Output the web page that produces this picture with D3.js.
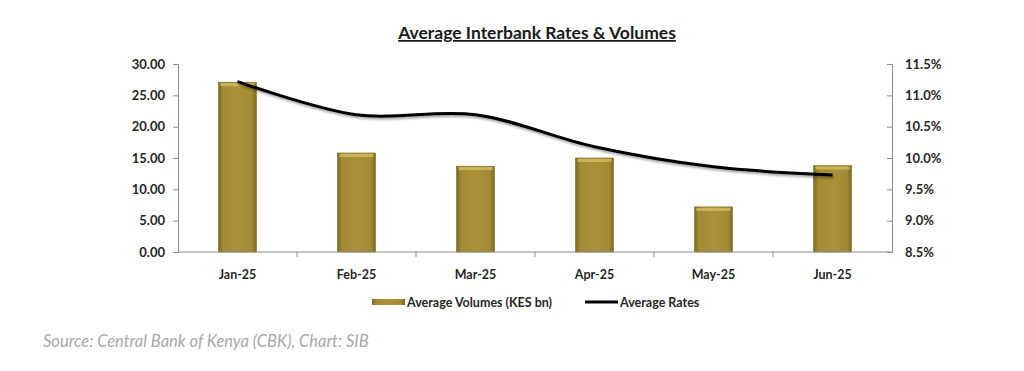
<!DOCTYPE html>
<html>
<head>
<meta charset="utf-8">
<script src="https://cdn.jsdelivr.net/npm/d3@7"></script>
<style>
  body { margin: 0; background: #fff; }
  svg text { font-family: Lato, "Open Sans", sans-serif; }
</style>
</head>
<body>
<div id="chart"></div>
<script>
// data
const MONTHS = ["Jan-25", "Feb-25", "Mar-25", "Apr-25", "May-25", "Jun-25"];
const VOLUMES = [27.1, 15.8, 13.7, 15.0, 7.2, 13.8];
const RATES = [11.22, 10.69, 10.69, 10.18, 9.86, 9.73];
const LEFT_TICKS = [0, 5, 10, 15, 20, 25, 30];
const RIGHT_TICKS = [8.5, 9.0, 9.5, 10.0, 10.5, 11.0, 11.5];

const W = 1024, H = 371;
const plot = { left: 178, right: 892, top: 64, bottom: 252 };

const svg = d3.select("#chart").append("svg")
    .attr("width", W)
    .attr("height", H);

const defs = svg.append("defs");
const grad = defs.append("linearGradient").attr("id", "gold").attr("x1", 0).attr("x2", 1);
grad.append("stop").attr("offset", "0%").attr("stop-color", "#7a6720");
grad.append("stop").attr("offset", "12%").attr("stop-color", "#a38b36");
grad.append("stop").attr("offset", "50%").attr("stop-color", "#aa923b");
grad.append("stop").attr("offset", "88%").attr("stop-color", "#a38b36");
grad.append("stop").attr("offset", "100%").attr("stop-color", "#7a6720");

const shadow = defs.append("filter").attr("id", "shadow")
    .attr("x", "-5%").attr("y", "-20%").attr("width", "110%").attr("height", "160%");
shadow.append("feDropShadow").attr("dx", 1).attr("dy", 2).attr("stdDeviation", 1.2)
    .attr("flood-color", "#000").attr("flood-opacity", 0.35);

// scales
const x = d3.scaleBand().domain(MONTHS).range([plot.left, plot.right]).paddingInner(0.68).paddingOuter(0.34);
const xBand = d3.scaleBand().domain(MONTHS).range([plot.left, plot.right]);
const yL = d3.scaleLinear().domain([0, 30]).range([plot.bottom, plot.top]);
const yR = d3.scaleLinear().domain([8.5, 11.5]).range([plot.bottom, plot.top]);

// title
svg.append("text")
    .attr("x", 537).attr("y", 39)
    .attr("text-anchor", "middle")
    .style("font-size", "17.5px")
    .style("font-weight", "bold")
    .style("fill", "#1a1a1a")
    .style("text-decoration", "underline")
    .text("Average Interbank Rates & Volumes");

// bars
const bars = svg.append("g").selectAll("g.bar")
    .data(MONTHS.map((m, i) => ({ m, v: VOLUMES[i] })))
    .enter().append("g");

bars.append("rect")
    .attr("x", d => x(d.m))
    .attr("y", d => yL(d.v))
    .attr("width", x.bandwidth())
    .attr("height", d => yL(0) - yL(d.v))
    .attr("fill", "url(#gold)")
    .attr("stroke", "#85712a")
    .attr("stroke-width", 0.6);

bars.append("rect")
    .attr("x", d => x(d.m) + 2)
    .attr("y", d => yL(d.v) + 1)
    .attr("width", x.bandwidth() - 4)
    .attr("height", 3)
    .attr("fill", "#d6c165")
    .attr("opacity", 0.75);

// axes
const axisColor = "#8c8c8c";

const xAxis = svg.append("g")
    .attr("transform", `translate(0,${plot.bottom})`);
xAxis.append("line")
    .attr("x1", plot.left).attr("x2", plot.right)
    .attr("stroke", axisColor);
xAxis.selectAll("line.tick")
    .data(MONTHS.slice(1))
    .enter().append("line")
    .attr("x1", d => xBand(d)).attr("x2", d => xBand(d))
    .attr("y1", 0).attr("y2", 5)
    .attr("stroke", axisColor);
xAxis.selectAll("text")
    .data(MONTHS)
    .enter().append("text")
    .attr("x", d => xBand(d) + xBand.bandwidth() / 2)
    .attr("y", 27)
    .attr("text-anchor", "middle")
    .style("font-size", "12.5px")
    .style("font-weight", "bold")
    .style("fill", "#262626")
    .text(d => d);

const leftAxis = svg.append("g")
    .attr("transform", `translate(${plot.left},0)`)
    .call(d3.axisLeft(yL).tickValues(LEFT_TICKS).tickSize(5).tickPadding(8).tickFormat(d3.format(".2f")));

const rightAxis = svg.append("g")
    .attr("transform", `translate(${plot.right},0)`)
    .call(d3.axisRight(yR).tickValues(RIGHT_TICKS).tickSize(-5).tickPadding(13).tickFormat(d => d.toFixed(1) + "%"));

[leftAxis, rightAxis].forEach(a => {
    a.select(".domain").attr("stroke", axisColor);
    a.selectAll(".tick line").attr("stroke", axisColor);
    a.selectAll("text")
        .style("font-family", "Lato, sans-serif")
        .style("font-size", "13px")
        .style("font-weight", "bold")
        .style("fill", "#262626");
});
rightAxis.selectAll(".tick text").attr("x", 13);

// smoothed rate line
const line = d3.line()
    .x((d, i) => xBand(MONTHS[i]) + xBand.bandwidth() / 2)
    .y(d => yR(d))
    .curve(d3.curveCatmullRom.alpha(0.5));

svg.append("path")
    .datum(RATES)
    .attr("fill", "none")
    .attr("stroke", "#000")
    .attr("stroke-width", 3)
    .attr("filter", "url(#shadow)")
    .attr("d", line);

// legend
const legend = svg.append("g").attr("transform", "translate(0,302)");
legend.append("rect")
    .attr("x", 372).attr("y", -3).attr("width", 33).attr("height", 6)
    .attr("fill", "url(#gold)");
legend.append("text")
    .attr("x", 407).attr("y", 4.5)
    .style("font-size", "12.5px").style("font-weight", "bold").style("fill", "#262626")
    .text("Average Volumes (KES bn)");
legend.append("line")
    .attr("x1", 585).attr("x2", 618)
    .attr("stroke", "#000").attr("stroke-width", 3);
legend.append("text")
    .attr("x", 620).attr("y", 4.5)
    .style("font-size", "12.5px").style("font-weight", "bold").style("fill", "#262626")
    .text("Average Rates");

// source note
svg.append("text")
    .attr("x", 43).attr("y", 347)
    .style("font-size", "16.5px")
    .style("font-style", "italic")
    .style("fill", "#a8a8a8")
    .text("Source: Central Bank of Kenya (CBK), Chart: SIB");
</script>
</body>
</html>
